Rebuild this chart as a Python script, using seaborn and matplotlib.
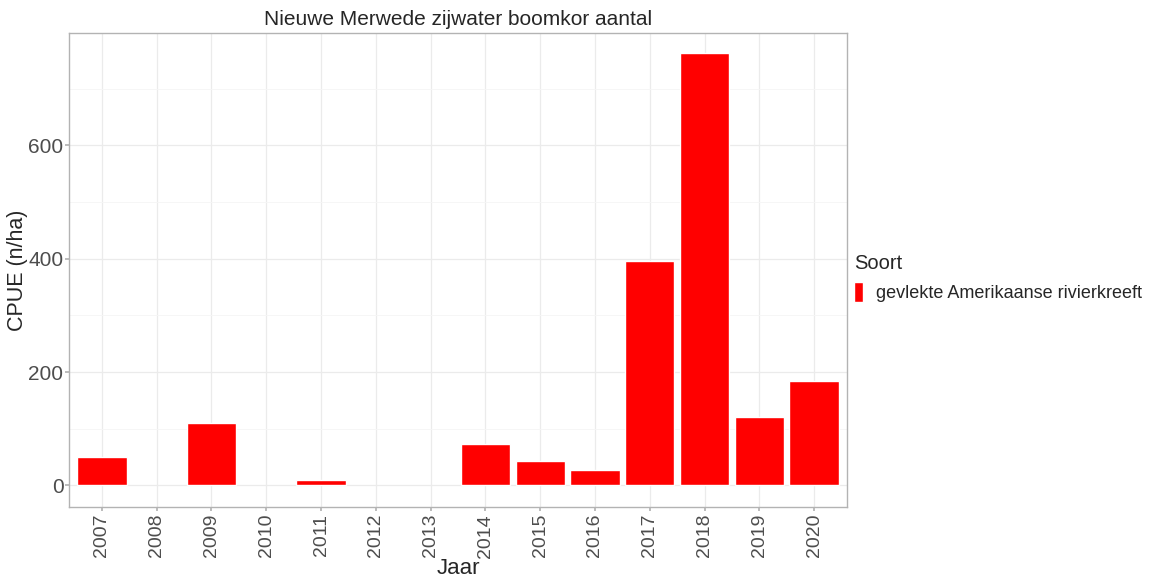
import numpy as np
import pandas as pd
import matplotlib
matplotlib.use("Agg")
import matplotlib.pyplot as plt
import seaborn as sns
from matplotlib.ticker import MultipleLocator

jaren = ["2007", "2008", "2009", "2010", "2011", "2012", "2013",
         "2014", "2015", "2016", "2017", "2018", "2019", "2020"]
cpue = [50, np.nan, 110, np.nan, 9, np.nan, np.nan,
        73, 43, 28, 396, 763, 121, 185]
soort = "gevlekte Amerikaanse rivierkreeft"

df = pd.DataFrame({"Jaar": jaren, "CPUE": cpue, "Soort": soort}).dropna()

sns.set_theme(style="white")
plt.rcParams['font.family'] = ['Liberation Sans', 'DejaVu Sans']

fig, ax = plt.subplots(figsize=(11.54, 5.77), dpi=100)
fig.subplots_adjust(left=69/1154, right=847/1154, top=1-33/577, bottom=1-507/577)

sns.barplot(data=df, x="Jaar", y="CPUE", hue="Soort", order=jaren,
            palette=["#ff0000"], width=0.9, saturation=1, errorbar=None,
            ax=ax, zorder=3)

# ggplot-style 5% expansion, top kept just under the 800 tick
ax.set_ylim(-38, 798)
ax.set_xlim(-0.6, len(jaren) - 0.4)
ax.yaxis.set_major_locator(MultipleLocator(200))
ax.yaxis.set_minor_locator(MultipleLocator(100))

ax.grid(True, which="major", color="#ebebeb", linewidth=0.9, zorder=0)
ax.grid(True, which="minor", axis="y", color="#f5f5f5", linewidth=0.6, zorder=0)
ax.set_axisbelow(True)

for s in ax.spines.values():
    s.set_color("#b3b3b3")
    s.set_linewidth(1.0)

ax.tick_params(axis="both", which="major", length=3, color="#b3b3b3", pad=2,
               labelcolor="#4d4d4d", bottom=True, left=True)
ax.tick_params(axis="x", labelsize=14)
ax.tick_params(axis="y", labelsize=15, pad=1)
ax.tick_params(axis="y", which="minor", length=0)
plt.setp(ax.get_xticklabels(), rotation=90)

ax.set_title("Nieuwe Merwede zijwater boomkor aantal", fontsize=15, pad=6)
ax.set_xlabel("Jaar", fontsize=16, labelpad=0)
ax.set_ylabel("CPUE (n/ha)", fontsize=15.5, labelpad=0)

leg = ax.legend(title="Soort", loc="upper left", bbox_to_anchor=(0.993, 0.56),
                frameon=False, fontsize=13, title_fontsize=14.5,
                handlelength=0.5, handleheight=1.3, handletextpad=0.7,
                borderaxespad=0.3)
leg._legend_box.align = "left"

fig.savefig("out.png", dpi=100)
plt.close(fig)
